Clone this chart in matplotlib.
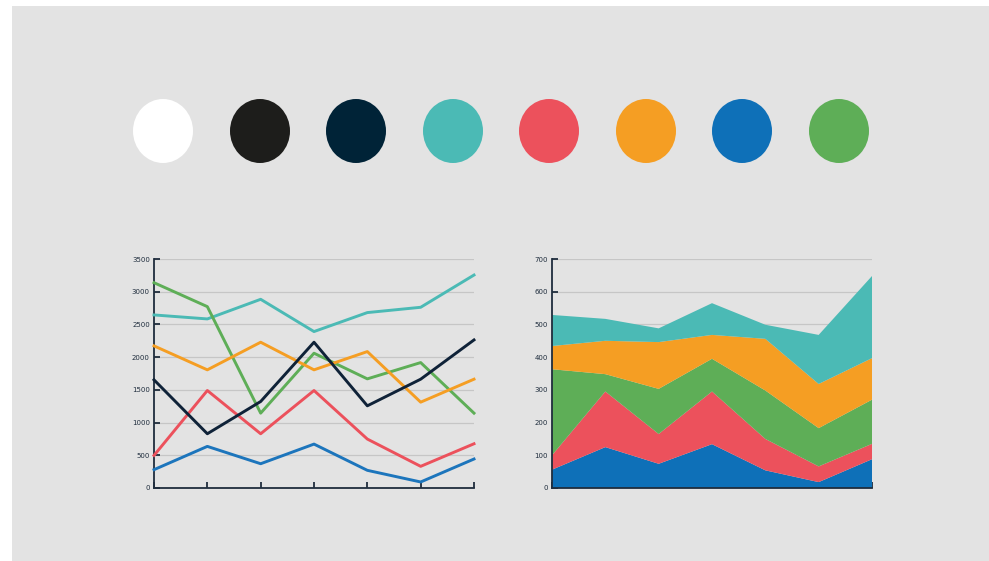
import matplotlib
matplotlib.use('Agg')
import matplotlib.pyplot as plt
from matplotlib.patches import Ellipse, Rectangle

W, H = 989, 561

# palette swatches
swatch_colors = ['#ffffff', '#1d1d1b', '#002337', '#4bbab5',
                 '#ec515c', '#f59e23', '#0e70b8', '#5eae57']

# line chart data
x_pts = [0, 1, 2, 3, 4, 5, 6]
line_teal = [2645, 2584, 2884, 2391, 2681, 2762, 3255]
line_green = [3138, 2772, 1144, 2060, 1668, 1917, 1144]
line_orange = [2172, 1806, 2228, 1806, 2085, 1312, 1663]
line_navy = [1653, 829, 1322, 2228, 1256, 1663, 2263]
line_red = [498, 1490, 829, 1490, 748, 331, 676]
line_blue = [280, 636, 371, 671, 270, 92, 443]
line_ticks = [0, 500, 1000, 1500, 2000, 2500, 3000, 3500]

# stacked area data (bottom to top)
area_blue = [56, 125, 74, 134, 54, 18, 88]
area_red = [44, 170, 91, 161, 96, 48, 47]
area_green = [263, 53, 138, 100, 148, 117, 135]
area_orange = [71, 102, 143, 73, 158, 135, 127]
area_teal = [95, 67, 42, 97, 43, 150, 251]
area_ticks = [0, 100, 200, 300, 400, 500, 600, 700]

GRAY_BG = '#e3e3e3'
SPINE = '#1f2d3d'
GRID = '#c6c6c6'

fig = plt.figure(figsize=(W / 100, H / 100), dpi=100)
fig.patch.set_facecolor('white')

# gray panel
bg = fig.add_axes([0, 0, 1, 1])
bg.set_xlim(0, W)
bg.set_ylim(H, 0)
bg.axis('off')
bg.add_patch(Rectangle((12, 6), W - 12, H - 6, facecolor=GRAY_BG, edgecolor='none'))

swatch_x = [163, 260, 356, 453, 549, 646, 742, 839]
for cx, c in zip(swatch_x, swatch_colors):
    bg.add_patch(Ellipse((cx, 131), 60, 64, facecolor=c, edgecolor='none'))


def px_axes(x0, x1, ytop, ybot):
    return fig.add_axes([x0 / W, (H - ybot) / H, (x1 - x0) / W, (ybot - ytop) / H])


def style(ax, ymax, ticks):
    ax.set_facecolor('none')
    ax.set_xlim(0, 6)
    ax.set_ylim(0, ymax)
    ax.set_yticks(ticks)
    ax.set_xticks(x_pts)
    ax.set_xticklabels([])
    ax.set_yticklabels([str(t) for t in ticks])
    for s in ['top', 'right']:
        ax.spines[s].set_visible(False)
    for s in ['left', 'bottom']:
        ax.spines[s].set_color(SPINE)
        ax.spines[s].set_linewidth(1.3)
    ax.tick_params(axis='both', direction='in', length=4, width=1.3,
                   color=SPINE, labelsize=5, labelcolor=SPINE, pad=3)
    ax.grid(axis='y', color=GRID, linewidth=0.9)
    ax.set_axisbelow(True)


# left: line chart
ax1 = px_axes(154, 474, 259, 488)
style(ax1, 3500, line_ticks)
for ys, c in [(line_teal, '#4bbab5'), (line_green, '#5eae57'),
              (line_orange, '#f59e23'), (line_red, '#ec515c'),
              (line_blue, '#1c75bc'), (line_navy, '#0f2238')]:
    ax1.plot(x_pts, ys, color=c, linewidth=2.1, clip_on=False, zorder=3)

# right: stacked area
ax2 = px_axes(552, 872, 259, 488)
style(ax2, 700, area_ticks)
ax2.stackplot(x_pts, area_blue, area_red, area_green, area_orange, area_teal,
              colors=['#0e70b8', '#ec515c', '#5eae57', '#f59e23', '#4bbab5'],
              linewidth=0, zorder=2)

fig.savefig('out.png', dpi=100)
